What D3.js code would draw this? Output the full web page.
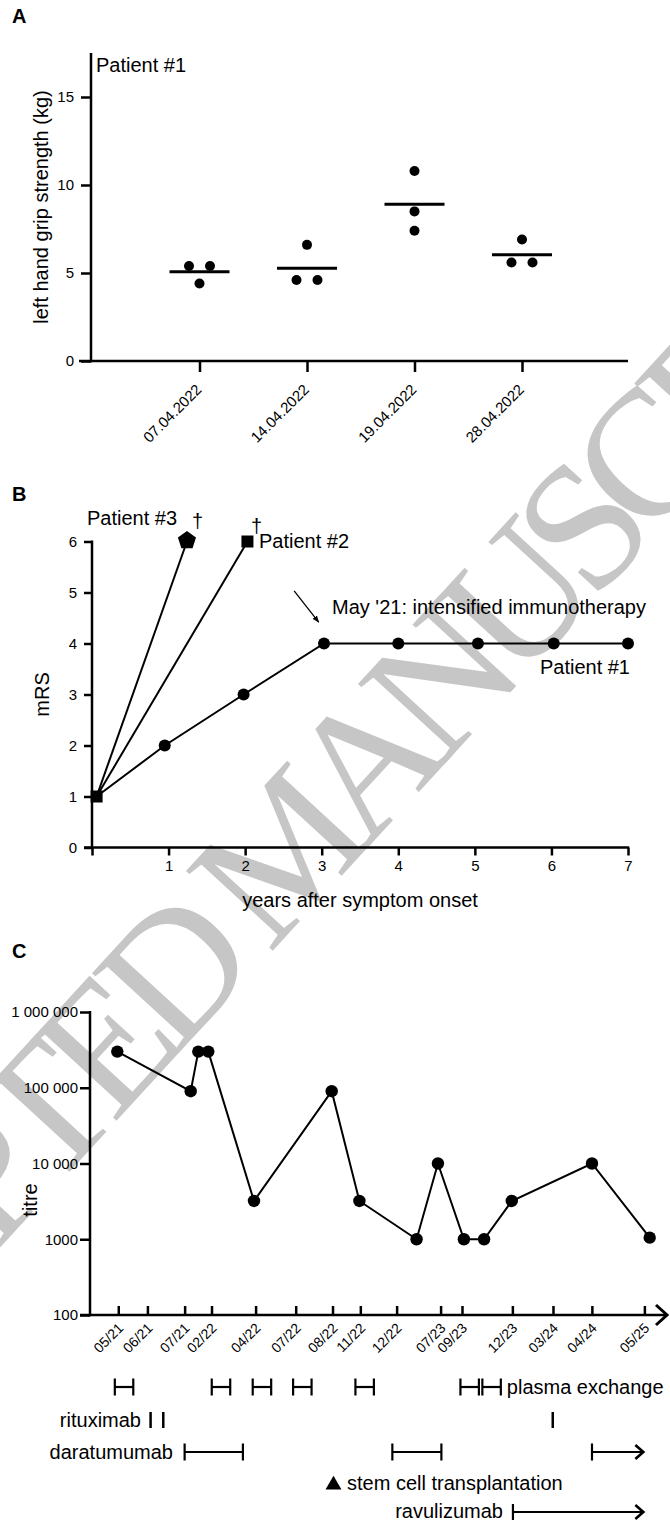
<!DOCTYPE html>
<html><head><meta charset="utf-8">
<script src="https://cdn.jsdelivr.net/npm/d3@7"></script>
<style>
body{margin:0;background:#fff}
svg{display:block}
text{font-family:"Liberation Sans",Arial,sans-serif;fill:#000}
</style>
</head><body>
<svg id="chart" width="670" height="1525"></svg>
<script>
// ---------------- DATA ----------------
// Panel A: left hand grip strength, patient #1
const gripDates = ["07.04.2022", "14.04.2022", "19.04.2022", "28.04.2022"];
const gripValues = [[5.4, 5.4, 4.4], [4.6, 6.6, 4.6], [10.8, 8.5, 7.4], [5.6, 6.9, 5.6]];
const gripSlots = [[-1, 1, 0], [-1, 0, 1], [0, 0, 0], [-1, 0, 1]];
const gripTicks = [0, 5, 10, 15];

// Panel B: mRS over years after symptom onset
const p1Years = [0.06, 0.95, 1.98, 3.03, 4.0, 5.04, 6.03, 7.0];
const p1MRS = [1, 2, 3, 4, 4, 4, 4, 4];
const p2Years = [0.06, 2.03];
const p2MRS = [1, 6];
const p3Years = [0.06, 1.24];
const p3MRS = [1, 6];
const mrsTicks = [0, 1, 2, 3, 4, 5, 6];
const yearTicks = [0, 1, 2, 3, 4, 5, 6, 7];
const arrowB = [[2.64, 5.03], [2.96, 4.42]];

// Panel C: titre timeline (position on the timeline axis, 0-100)
const timelineTicks = [4.9, 9.95, 16.4, 21.06, 28.7, 35.65, 42.03, 46.85, 53.14, 60.76, 64.47, 73.2, 80.24, 86.98, 96.08];
const timelineLabels = ["05/21", "06/21", "07/21", "02/22", "04/22", "07/22", "08/22", "11/22", "12/22", "07/23", "09/23", "12/23", "03/24", "04/24", "05/25"];
const titrePos = [4.73, 17.45, 18.77, 20.5, 28.42, 41.89, 46.69, 56.6, 60.3, 64.8, 68.3, 73.1, 87.0, 97.0];
const titreValues = [300000, 90000, 300000, 300000, 3200, 90000, 3200, 1000, 10000, 1000, 1000, 3200, 10000, 1050];
const titreTicks = [100, 1000, 10000, 100000, 1000000];
const titreTickLabels = ["100", "1000", "10 000", "100 000", "1 000 000"];
const plasmaExchange = [[4.3, 7.5], [21.1, 24.3], [28.2, 31.4], [35.2, 38.4], [46.0, 49.2], [64.2, 67.4], [68.0, 71.2]];
const rituximab = [10.5, 12.7, 80.2];
const daratumumab = [[16.4, 26.5, false], [52.4, 60.9, false], [87.0, 95.9, true]];
const ravulizumab = [[73.3, 95.9, true]];

// ---------------- DRAW ----------------
const svg = d3.select("#chart");

// watermark (behind everything)
svg.append("text")
  .attr("transform", "translate(-281,1553) rotate(-47.4)")
  .style("font-family", "'Liberation Serif','Times New Roman',serif")
  .style("font-size", "180px")
  .style("letter-spacing", "-18px")
  .style("fill", "#c6c6c6")
  .text("ACCEPTED MANUSCRIPT");

function styleAxis(g, fs) {
  g.select(".domain").remove();
  g.selectAll(".tick line").attr("stroke", "#000").attr("stroke-width", 2.5);
  g.selectAll(".tick text").attr("fill", "#000").style("font-size", fs + "px");
}
function panelLabel(t, x, y) {
  svg.append("text").attr("x", x).attr("y", y).style("font-weight", "bold").style("font-size", "20px").text(t);
}

// ===== Panel A =====
panelLabel("A", 12, 23);
const xA = d3.scalePoint().domain(gripDates).range([199.5, 522]);
const yA = d3.scaleLinear().domain([0, 17.5]).range([361, 53]);
const gA = svg.append("g");
gA.append("line").attr("x1", 91).attr("x2", 91).attr("y1", yA(17.5)).attr("y2", yA(0) + 1.2).attr("stroke", "#000").attr("stroke-width", 2.5);
gA.append("line").attr("x1", 79).attr("x2", 628).attr("y1", yA(0)).attr("y2", yA(0)).attr("stroke", "#000").attr("stroke-width", 2.5);
gA.append("g").attr("transform", "translate(91,0)")
  .call(d3.axisLeft(yA).tickValues(gripTicks).tickSize(10).tickPadding(7).tickFormat(d3.format("d")))
  .call(g => styleAxis(g, 15));
gA.append("g").attr("transform", `translate(0,${yA(0)})`)
  .call(d3.axisBottom(xA).tickSize(11))
  .call(g => styleAxis(g, 15))
  .call(g => g.selectAll(".tick text").attr("x", null).attr("y", null).attr("dy", null)
    .attr("text-anchor", "end").attr("transform", "translate(2.5,29.5) rotate(-45)"));
gA.append("text").attr("transform", `translate(48,${(yA(0) + yA(17.5)) / 2}) rotate(-90)`)
  .attr("text-anchor", "middle").style("font-size", "20px").text("left hand grip strength (kg)");
gA.append("text").attr("x", 96).attr("y", 72).style("font-size", "20px").text("Patient #1");
gripDates.forEach((d, i) => {
  const m = d3.mean(gripValues[i]);
  gA.append("line").attr("x1", xA(d) - 30).attr("x2", xA(d) + 30).attr("y1", yA(m)).attr("y2", yA(m))
    .attr("stroke", "#000").attr("stroke-width", 3);
  gA.selectAll(null).data(gripValues[i]).join("circle")
    .attr("cx", (v, j) => xA(d) + gripSlots[i][j] * 10.5)
    .attr("cy", v => yA(v)).attr("r", 5).attr("fill", "#000");
});

// ===== Panel B =====
panelLabel("B", 12, 501);
const xB = d3.scaleLinear().domain([0, 7]).range([92, 628]);
const yB = d3.scaleLinear().domain([0, 6]).range([847.5, 541.5]);
const gB = svg.append("g");
gB.append("line").attr("x1", 92).attr("x2", 92).attr("y1", yB(6) - 1).attr("y2", yB(0) + 1.2).attr("stroke", "#000").attr("stroke-width", 2.5);
gB.append("line").attr("x1", 84).attr("x2", xB(7) + 1.2).attr("y1", yB(0)).attr("y2", yB(0)).attr("stroke", "#000").attr("stroke-width", 2.5);
gB.append("g").attr("transform", "translate(92,0)")
  .call(d3.axisLeft(yB).tickValues(mrsTicks).tickSize(8).tickPadding(7).tickFormat(d3.format("d")))
  .call(g => styleAxis(g, 15));
gB.append("g").attr("transform", `translate(0,${yB(0)})`)
  .call(d3.axisBottom(xB).tickValues(yearTicks).tickSize(8).tickPadding(5).tickFormat(d => d === 0 ? "" : d3.format("d")(d)))
  .call(g => styleAxis(g, 15));
gB.append("text").attr("transform", `translate(49,${(yB(0) + yB(6)) / 2}) rotate(-90)`)
  .attr("text-anchor", "middle").style("font-size", "20px").text("mRS");
gB.append("text").attr("x", (xB(0) + xB(7)) / 2).attr("y", 907).attr("text-anchor", "middle")
  .style("font-size", "20px").text("years after symptom onset");

const lineB = d3.line().x(d => xB(d[0])).y(d => yB(d[1]));
const series = [d3.zip(p3Years, p3MRS), d3.zip(p2Years, p2MRS), d3.zip(p1Years, p1MRS)];
series.forEach(s => gB.append("path").attr("d", lineB(s)).attr("fill", "none").attr("stroke", "#000").attr("stroke-width", 2));
gB.selectAll(null).data(d3.zip(p1Years, p1MRS).slice(1)).join("circle")
  .attr("cx", d => xB(d[0])).attr("cy", d => yB(d[1])).attr("r", 6).attr("fill", "#000");
gB.append("path").attr("d", d3.symbol(d3.symbolSquare, 144)())
  .attr("transform", `translate(${xB(p1Years[0])},${yB(p1MRS[0])})`).attr("fill", "#000");
gB.append("path").attr("d", d3.symbol(d3.symbolSquare, 144)())
  .attr("transform", `translate(${xB(p2Years[1])},${yB(p2MRS[1])})`).attr("fill", "#000");
const pentagon = {
  draw(ctx, size) {
    const r = Math.sqrt(size / (2.5 * Math.sin(2 * Math.PI / 5)));
    for (let i = 0; i < 5; i++) {
      const a = -Math.PI / 2 + i * 2 * Math.PI / 5;
      if (i === 0) ctx.moveTo(r * Math.cos(a), r * Math.sin(a)); else ctx.lineTo(r * Math.cos(a), r * Math.sin(a));
    }
    ctx.closePath();
  }
};
gB.append("path").attr("d", d3.symbol(pentagon, 215)())
  .attr("transform", `translate(${xB(p3Years[1])},${yB(p3MRS[1]) - 1})`).attr("fill", "#000");
gB.append("text").attr("x", 87).attr("y", 525).style("font-size", "20px").text("Patient #3");
gB.append("text").attr("x", 192).attr("y", 528).style("font-size", "20px").text("†");
gB.append("text").attr("x", 251).attr("y", 533).style("font-size", "20px").text("†");
gB.append("text").attr("x", 259).attr("y", 548).style("font-size", "20px").text("Patient #2");
gB.append("text").attr("x", 332).attr("y", 614).style("font-size", "20px").text("May '21: intensified immunotherapy");
gB.append("text").attr("x", 630).attr("y", 674).attr("text-anchor", "end").style("font-size", "20px").text("Patient #1");
svg.append("defs").append("marker").attr("id", "ah").attr("viewBox", "0 0 10 10").attr("refX", 9).attr("refY", 5)
  .attr("markerWidth", 7).attr("markerHeight", 7).attr("markerUnits", "userSpaceOnUse").attr("orient", "auto")
  .append("path").attr("d", "M0,1 L10,5 L0,9 Z").attr("fill", "#000");
gB.append("line").attr("x1", xB(arrowB[0][0])).attr("y1", yB(arrowB[0][1])).attr("x2", xB(arrowB[1][0])).attr("y2", yB(arrowB[1][1]))
  .attr("stroke", "#000").attr("stroke-width", 1.3).attr("marker-end", "url(#ah)");

// ===== Panel C =====
panelLabel("C", 12, 958);
const xC = d3.scaleLinear().domain([0, 100]).range([90, 667]);
const yC = d3.scaleLog().domain([100, 1000000]).range([1315, 1012]);
const gC = svg.append("g");
gC.append("line").attr("x1", 90).attr("x2", 90).attr("y1", yC(1000000) - 1).attr("y2", yC(100) + 1.2).attr("stroke", "#000").attr("stroke-width", 2.5);
gC.append("line").attr("x1", 80).attr("x2", xC(100) - 1).attr("y1", yC(100)).attr("y2", yC(100)).attr("stroke", "#000").attr("stroke-width", 2.5);
gC.append("path").attr("d", `M${xC(100) - 11},${yC(100) - 10} L${xC(100)},${yC(100)} L${xC(100) - 11},${yC(100) + 10}`)
  .attr("fill", "none").attr("stroke", "#000").attr("stroke-width", 3);
gC.append("g").attr("transform", "translate(90,0)")
  .call(d3.axisLeft(yC).tickValues(titreTicks).tickSize(10).tickPadding(2).tickFormat((d, i) => titreTickLabels[i]))
  .call(g => styleAxis(g, 15));
gC.append("g").attr("transform", `translate(0,${yC(100)})`)
  .call(d3.axisBottom(xC).tickValues(timelineTicks).tickSize(-9).tickFormat((d, i) => timelineLabels[i]))
  .call(g => styleAxis(g, 14))
  .call(g => g.selectAll(".tick text").attr("x", null).attr("y", null).attr("dy", null)
    .attr("text-anchor", "end").attr("transform", "translate(5.5,14) rotate(-45)"));
gC.append("text").attr("transform", `translate(37,1200) rotate(-90)`)
  .attr("text-anchor", "middle").style("font-size", "20px").text("titre");
const lineC = d3.line().x(d => xC(d[0])).y(d => yC(d[1]));
const titreData = d3.zip(titrePos, titreValues);
gC.append("path").attr("d", lineC(titreData)).attr("fill", "none").attr("stroke", "#000").attr("stroke-width", 2);
gC.selectAll(null).data(titreData).join("circle")
  .attr("cx", d => xC(d[0])).attr("cy", d => yC(d[1])).attr("r", 6.2).attr("fill", "#000");

// treatment rows
function interval(y, a, b, arrow, h) {
  const g = gC.append("g").attr("stroke", "#000").attr("stroke-width", 2.2).attr("fill", "none");
  g.append("line").attr("x1", xC(a)).attr("x2", xC(a)).attr("y1", y - h / 2).attr("y2", y + h / 2);
  g.append("line").attr("x1", xC(a)).attr("x2", xC(b)).attr("y1", y).attr("y2", y);
  if (arrow) {
    g.append("path").attr("d", `M${xC(b) - 8},${y - 7} L${xC(b)},${y} L${xC(b) - 8},${y + 7}`).attr("stroke-width", 2.6);
  } else {
    g.append("line").attr("x1", xC(b)).attr("x2", xC(b)).attr("y1", y - h / 2).attr("y2", y + h / 2);
  }
}
const rowPE = 1387, rowRi = 1420, rowDa = 1452, rowSt = 1484, rowRa = 1512;
plasmaExchange.forEach(d => interval(rowPE, d[0], d[1], false, 17));
gC.append("text").attr("x", xC(71.2) + 6).attr("y", rowPE + 7).style("font-size", "20px").text("plasma exchange");
gC.append("text").attr("x", 141).attr("y", rowRi + 7).attr("text-anchor", "end").style("font-size", "20px").text("rituximab");
rituximab.forEach(p => gC.append("line").attr("x1", xC(p)).attr("x2", xC(p)).attr("y1", rowRi - 8).attr("y2", rowRi + 8)
  .attr("stroke", "#000").attr("stroke-width", 2.5));
gC.append("text").attr("x", 173).attr("y", rowDa + 7).attr("text-anchor", "end").style("font-size", "20px").text("daratumumab");
daratumumab.forEach(d => interval(rowDa, d[0], d[1], d[2], 17));
gC.append("path").attr("d", d3.symbol(d3.symbolTriangle, 110)()).attr("transform", `translate(333.5,${rowSt + 1})`).attr("fill", "#000");
gC.append("text").attr("x", 347).attr("y", rowSt + 6).style("font-size", "20px").text("stem cell transplantation");
gC.append("text").attr("x", 503).attr("y", rowRa + 6).attr("text-anchor", "end").style("font-size", "20px").text("ravulizumab");
ravulizumab.forEach(d => interval(rowRa, d[0], d[1], d[2], 16));
</script>
</body></html>
